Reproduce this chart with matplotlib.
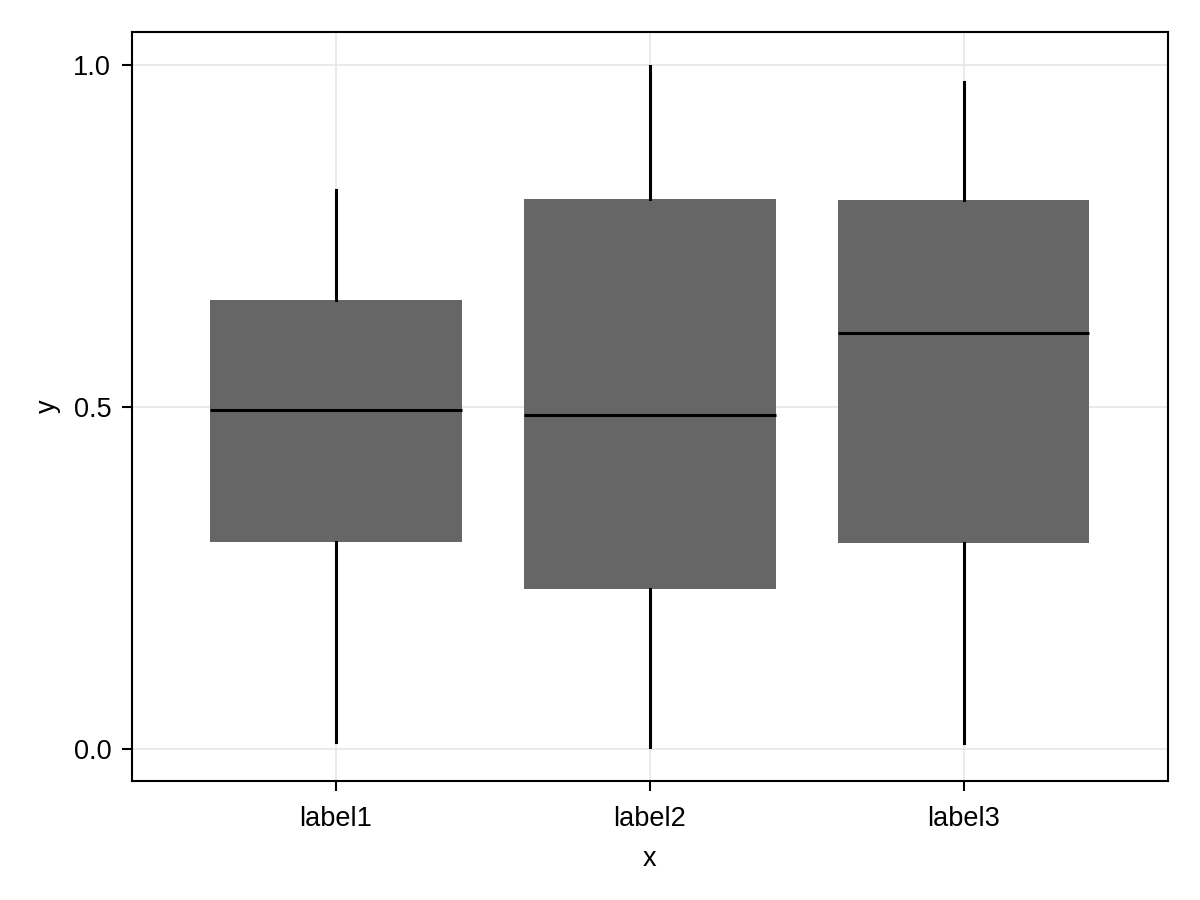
import matplotlib
matplotlib.use('Agg')
import matplotlib.pyplot as plt

plt.rcParams['font.family'] = ['Liberation Sans', 'DejaVu Sans']

# Box statistics
labels = ['label1', 'label2', 'label3']
whislo = [0.010, 0.003, 0.009]
q1 = [0.303, 0.234, 0.301]
med = [0.496, 0.488, 0.608]
q3 = [0.656, 0.804, 0.803]
whishi = [0.817, 0.998, 0.975]

stats = []
for i in range(len(labels)):
    stats.append({'label': labels[i], 'whislo': whislo[i], 'q1': q1[i], 'med': med[i],
                  'q3': q3[i], 'whishi': whishi[i], 'fliers': []})

fig = plt.figure(figsize=(12, 9), dpi=100)
ax = fig.add_axes([0.11, 0.1322, 0.8633, 0.8322])

ax.bxp(stats, positions=[1, 2, 3], widths=0.8, showcaps=False, showfliers=False,
       patch_artist=True,
       boxprops=dict(facecolor='#666666', edgecolor='none', linewidth=0),
       whiskerprops=dict(color='black', linewidth=2.2),
       medianprops=dict(color='black', linewidth=2.2),
       zorder=3)

ax.set_xlim(0.35, 3.65)
ax.set_ylim(-0.0468, 1.048)
ax.set_yticks([0.0, 0.5, 1.0])
ax.set_yticklabels(['0.0', '0.5', '1.0'])
ax.set_xticks([1, 2, 3])
ax.set_xticklabels(labels)

ax.grid(True, color='#e6e6e6', linewidth=1.2, zorder=0)
ax.set_axisbelow(True)
ax.tick_params(axis='both', labelsize=19.5, length=7, width=1.5, direction='out')
ax.tick_params(axis='x', pad=11)
ax.tick_params(axis='y', pad=8)
for s in ax.spines.values():
    s.set_linewidth(1.5)

ax.set_xlabel('x', fontsize=19.5, labelpad=10)
ax.set_ylabel('y', fontsize=19.5, labelpad=9)

plt.savefig('out.png', dpi=100)
